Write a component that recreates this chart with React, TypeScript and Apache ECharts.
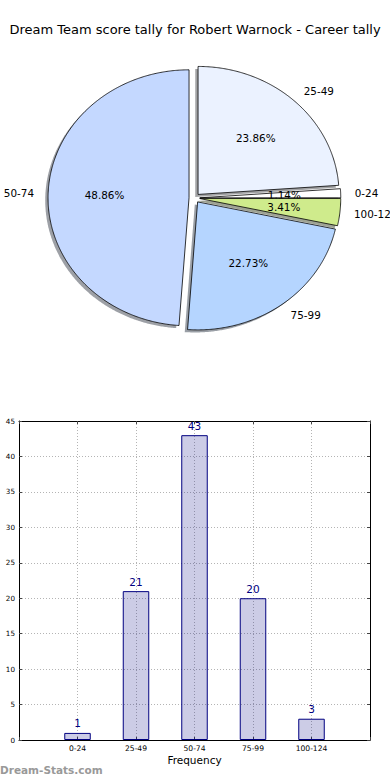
import React, { useEffect, useRef } from 'react';
import * as echarts from 'echarts';

const titleText = 'Dream Team score tally for Robert Warnock - Career tally';
const categories = ['0-24', '25-49', '50-74', '75-99', '100-124'];
const counts = [1, 21, 43, 20, 3];
// order of slices clockwise from 12 o'clock, as drawn in the pie
const pieOrder = ['25-49', '0-24', '100-124', '75-99', '50-74'];
const yMax = 45;
const yStep = 5;
const watermark = 'Dream-Stats.com';
const xLabel = 'Frequency';

const sliceColors: Record<string, string> = {
  '25-49': '#EBF2FF',
  '0-24': '#FFFFFF',
  '100-124': '#CFEB8C',
  '75-99': '#B5D5FF',
  '50-74': '#C4D8FF',
};

const FONT = '"DejaVu Sans", "Liberation Sans", sans-serif';
const CX = 194.4;
const CY = 198;
const RX = 141;
const RY = 128;
const EXPLODE = 0.038;
const SHADOW_DX = -0.02 * RX;
const SHADOW_DY = 0.02 * RY;

const pieValues = pieOrder.map((n) => counts[categories.indexOf(n)]);
const pieTotal = pieValues.reduce((a, b) => a + b, 0);

function shade(hex: string) {
  const r = parseInt(hex.slice(1, 3), 16);
  const g = parseInt(hex.slice(3, 5), 16);
  const b = parseInt(hex.slice(5, 7), 16);
  return `rgba(${Math.round(r * 0.3)},${Math.round(g * 0.3)},${Math.round(b * 0.3)},0.5)`;
}

function sliceGeom(i: number) {
  const before = pieValues.slice(0, i).reduce((a, b) => a + b, 0);
  const a1 = 90 - (360 * before) / pieTotal;
  const a2 = 90 - (360 * (before + pieValues[i])) / pieTotal;
  const mid = (((a1 + a2) / 2) * Math.PI) / 180;
  const tx = CX + EXPLODE * RX * Math.cos(mid);
  const ty = CY - EXPLODE * RY * Math.sin(mid);
  const n = Math.max(2, Math.ceil((a1 - a2) * 2));
  const pts: number[][] = [[tx, ty]];
  for (let k = 0; k <= n; k++) {
    const a = ((a1 - ((a1 - a2) * k) / n) * Math.PI) / 180;
    pts.push([tx + RX * Math.cos(a), ty - RY * Math.sin(a)]);
  }
  return { pts, mid, tx, ty };
}

export default function App() {
  const ref = useRef<HTMLDivElement>(null);
  useEffect(() => {
    if (!ref.current) return;
    const chart = echarts.init(ref.current, undefined, { renderer: 'svg' });
    const gridLine = { show: true, showMinLine: false, showMaxLine: false, lineStyle: { color: '#b4b4b4', width: 1, type: [1, 2] as any } };
    const axisLine = { show: true, onZero: false, lineStyle: { color: '#000', width: 1 } };
    const axisTick = { show: true, inside: true, length: 3, lineStyle: { color: '#444' } };
    const option: any = {
      animation: false,
      backgroundColor: '#fff',
      title: {
        text: titleText,
        left: 'center',
        top: 23,
        padding: 0,
        textStyle: { fontSize: 13, fontWeight: 'normal', fontFamily: FONT, color: '#000' },
      },
      graphic: [
        {
          type: 'text',
          left: 0,
          top: 764,
          style: { text: watermark, fill: '#999', fontSize: 10.5, fontWeight: 'bold', fontFamily: FONT },
        },
      ],
      grid: { left: 19, right: 20, top: 421, bottom: 40 },
      xAxis: [
        {
          type: 'value',
          min: 0,
          max: categories.length + 1,
          interval: 1,
          name: xLabel,
          nameLocation: 'middle',
          nameGap: 14,
          nameTextStyle: { fontSize: 10.5, fontFamily: FONT, color: '#000' },
          axisLine,
          axisTick,
          axisLabel: {
            fontSize: 7.6,
            fontFamily: FONT,
            color: '#000',
            margin: 4,
            formatter: (v: number) => (v >= 1 && v <= categories.length ? categories[v - 1] : ''),
          },
          splitLine: gridLine,
        },
        {
          type: 'value',
          position: 'top',
          min: 0,
          max: categories.length + 1,
          interval: 1,
          axisLine,
          axisTick,
          axisLabel: { show: false },
          splitLine: { show: false },
        },
      ],
      yAxis: [
        {
          type: 'value',
          min: 0,
          max: yMax,
          interval: yStep,
          axisLine,
          axisTick,
          axisLabel: { fontSize: 7.2, fontFamily: FONT, color: '#000', margin: 4 },
          splitLine: gridLine,
        },
        {
          type: 'value',
          position: 'right',
          min: 0,
          max: yMax,
          interval: yStep,
          axisLine,
          axisTick,
          axisLabel: { show: false },
          splitLine: { show: false },
        },
      ],
      series: [
        {
          type: 'bar',
          xAxisIndex: 0,
          yAxisIndex: 0,
          barWidth: 26.5,
          data: categories.map((c, i) => [i + 1, counts[i]]),
          itemStyle: { color: 'rgba(0,0,128,0.2)', borderColor: '#000080', borderWidth: 1 },
          label: {
            show: true,
            position: 'top',
            distance: 4,
            color: '#000080',
            fontSize: 10.5,
            fontFamily: FONT,
            formatter: (p: any) => String(p.value[1]),
          },
        },
        {
          type: 'custom',
          coordinateSystem: 'none',
          z: 1,
          silent: true,
          data: pieValues,
          renderItem: (params: any) => {
            const i = params.dataIndex;
            const g = sliceGeom(i);
            return {
              type: 'polygon',
              x: SHADOW_DX,
              y: SHADOW_DY,
              shape: { points: g.pts },
              style: { fill: shade(sliceColors[pieOrder[i]]), stroke: 'none' },
            };
          },
        },
        {
          type: 'custom',
          coordinateSystem: 'none',
          z: 3,
          silent: true,
          data: pieValues,
          renderItem: (params: any) => {
            const i = params.dataIndex;
            const g = sliceGeom(i);
            const cm = Math.cos(g.mid);
            const sm = Math.sin(g.mid);
            const pct = ((pieValues[i] / pieTotal) * 100).toFixed(2) + '%';
            return {
              type: 'group',
              children: [
                {
                  type: 'polygon',
                  shape: { points: g.pts },
                  style: { fill: sliceColors[pieOrder[i]], stroke: '#000', lineWidth: 0.8, lineJoin: 'miter' },
                },
                {
                  type: 'text',
                  x: g.tx + 0.6 * RX * cm,
                  y: g.ty - 0.6 * RY * sm,
                  style: { text: pct, fill: '#000', fontSize: 10.4, fontFamily: FONT, align: 'center', verticalAlign: 'middle' },
                },
                {
                  type: 'text',
                  x: g.tx + 1.1 * RX * cm,
                  y: g.ty - 1.1 * RY * sm,
                  style: {
                    text: pieOrder[i],
                    fill: '#000',
                    fontSize: 10.4,
                    fontFamily: FONT,
                    align: cm > 0 ? 'left' : 'right',
                    verticalAlign: 'middle',
                  },
                },
              ],
            };
          },
        },
      ],
    };
    chart.setOption(option);
    return () => chart.dispose();
  }, []);
  return (
    <div
      ref={ref}
      style={{ position: 'fixed', left: 0, top: 0, width: 390, height: 780, background: '#fff' }}
    />
  );
}
